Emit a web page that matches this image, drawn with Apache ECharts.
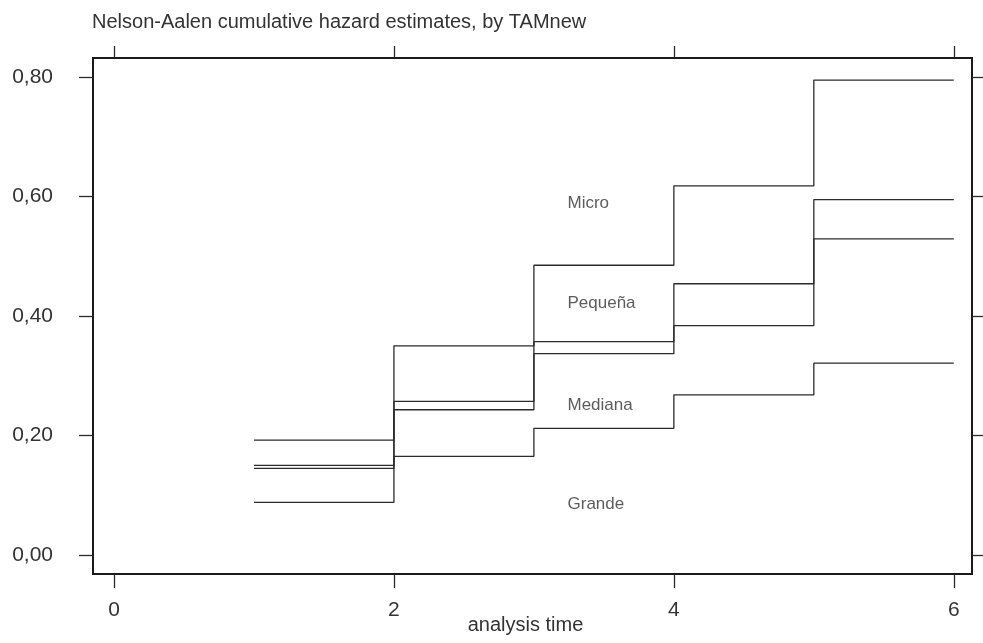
<!DOCTYPE html>
<html>
<head>
<meta charset="utf-8">
<script src="https://cdn.jsdelivr.net/npm/echarts@6/dist/echarts.min.js"></script>
<style>
  html, body { margin: 0; padding: 0; background: #fff; }
  #chart { width: 983px; height: 643px; }
</style>
</head>
<body>
<div id="chart"></div>
<script>
// step times (the last value holds until endTime)
var times = [1, 2, 3, 4, 5];
var endTime = 6;

var micro   = [0.192, 0.350, 0.485, 0.618, 0.795];
var pequena = [0.150, 0.257, 0.357, 0.454, 0.595];
var mediana = [0.145, 0.243, 0.337, 0.384, 0.529];
var grande  = [0.088, 0.165, 0.212, 0.268, 0.321];

// group labels written inside the plot
var groupNames = ['Micro', 'Pequeña', 'Mediana', 'Grande'];
var groupLabelX = [3.24, 3.24, 3.24, 3.24];
var groupLabelY = [0.589, 0.422, 0.251, 0.085];

var xTicks = [0, 2, 4, 6];
var yTicks = [0, 0.2, 0.4, 0.6, 0.8];

var font = "'Liberation Sans', Arial, sans-serif";
var ink = '#2b2b2b';

function stepData(vals) {
  var d = [];
  for (var i = 0; i < times.length; i++) {
    d.push([times[i], vals[i]]);
  }
  d.push([endTime, vals[vals.length - 1]]);
  return d;
}

function stepSeries(name, vals) {
  return {
    name: name,
    type: 'line',
    step: 'end',
    data: stepData(vals),
    showSymbol: false,
    symbol: 'none',
    silent: true,
    lineStyle: { color: ink, width: 1.3 },
    xAxisIndex: 0,
    yAxisIndex: 0
  };
}

var labelPts = [];
for (var i = 0; i < groupNames.length; i++) {
  labelPts.push({ value: [groupLabelX[i], groupLabelY[i]], name: groupNames[i] });
}

var tickStyle = { color: ink, width: 1.3 };

var myChart = echarts.init(document.getElementById('chart'));
myChart.setOption({
  animation: false,
  backgroundColor: '#fff',
  title: {
    text: 'Nelson-Aalen cumulative hazard estimates, by TAMnew',
    left: 87,
    top: 7,
    textStyle: { fontFamily: font, fontSize: 20, fontWeight: 'normal', color: '#333' }
  },
  grid: {
    left: 93, top: 58, right: 11, bottom: 69,
    outerBoundsMode: 'none',
    containLabel: false,
    show: true,
    borderColor: '#1a1a1a',
    borderWidth: 2,
    backgroundColor: '#fff'
  },
  xAxis: [{
    type: 'value',
    position: 'bottom',
    min: -0.15, max: 6.13,
    name: 'analysis time',
    nameLocation: 'middle',
    nameGap: 41,
    nameMoveOverlap: false,
    nameTextStyle: { fontFamily: font, fontSize: 20, color: '#333', padding: [0, 14, 0, 0] },
    splitLine: { show: false },
    axisLine: { show: false, onZero: false },
    axisTick: { show: true, length: 14, customValues: xTicks, lineStyle: tickStyle },
    axisLabel: { customValues: xTicks, margin: 26, fontFamily: font, fontSize: 21, color: '#333' }
  }, {
    type: 'value',
    position: 'top',
    min: -0.15, max: 6.13,
    splitLine: { show: false },
    axisLine: { show: false, onZero: false },
    axisTick: { show: true, length: 12, customValues: xTicks, lineStyle: tickStyle },
    axisLabel: { show: false }
  }],
  yAxis: [{
    type: 'value',
    position: 'left',
    min: -0.032, max: 0.832,
    splitLine: { show: false },
    axisLine: { show: false, onZero: false },
    axisTick: { show: true, length: 14, customValues: yTicks, lineStyle: tickStyle },
    axisLabel: {
      customValues: yTicks, margin: 40, fontFamily: font, fontSize: 21, color: '#333',
      formatter: function (v) { return v.toFixed(2).replace('.', ','); }
    }
  }, {
    type: 'value',
    position: 'right',
    min: -0.032, max: 0.832,
    splitLine: { show: false },
    axisLine: { show: false, onZero: false },
    axisTick: { show: true, length: 12, customValues: yTicks, lineStyle: tickStyle },
    axisLabel: { show: false }
  }],
  series: [
    stepSeries('Micro', micro),
    stepSeries('Pequeña', pequena),
    stepSeries('Mediana', mediana),
    stepSeries('Grande', grande),
    {
      type: 'scatter',
      data: labelPts,
      symbolSize: 0,
      silent: true,
      label: {
        show: true,
        position: 'right',
        distance: 0,
        formatter: '{b}',
        fontFamily: font,
        fontSize: 17,
        color: '#333'
      }
    }
  ]
});
</script>
</body>
</html>
